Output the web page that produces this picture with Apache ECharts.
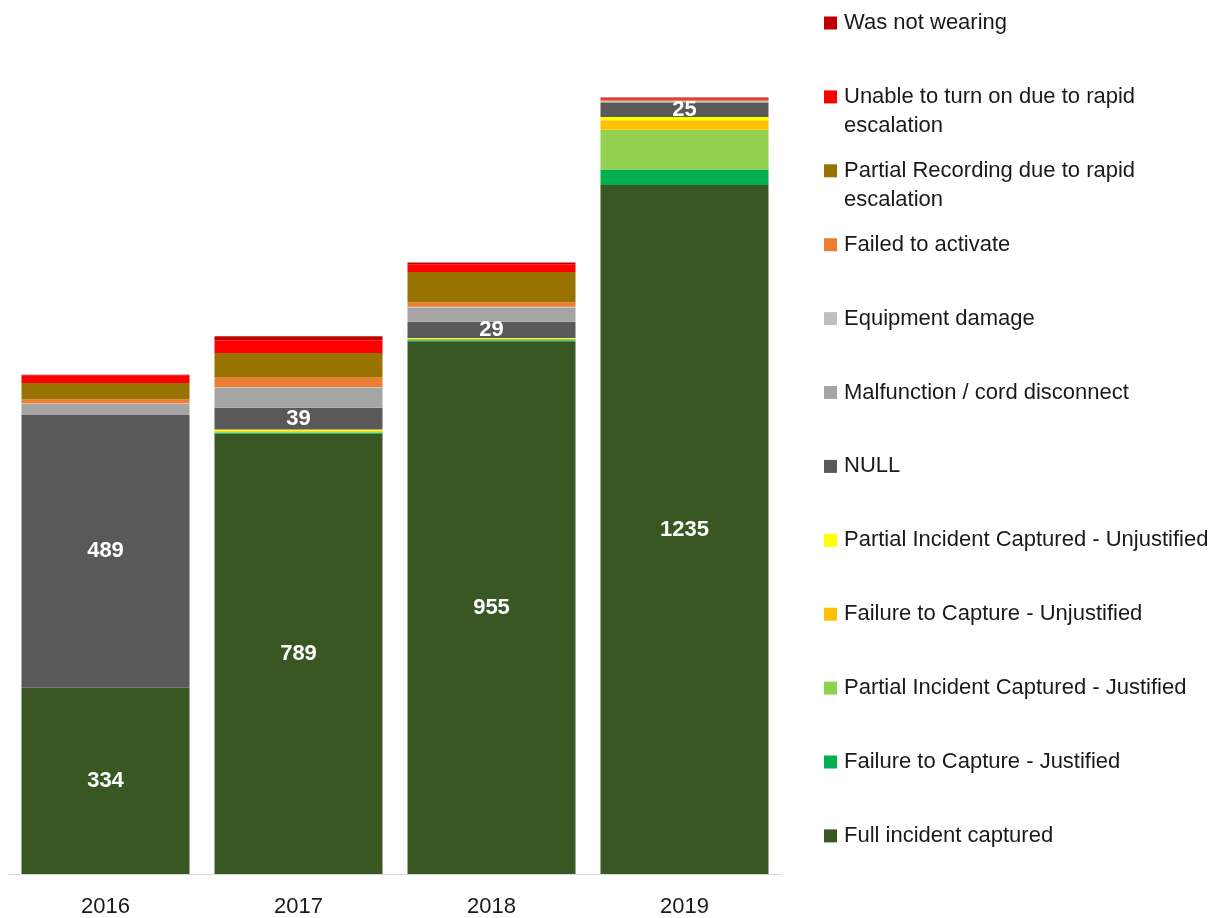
<!DOCTYPE html>
<html>
<head>
<meta charset="utf-8">
<script src="https://cdn.jsdelivr.net/npm/echarts@6/dist/echarts.min.js"></script>
<style>
  html, body { margin: 0; padding: 0; background: #fff; }
  #chart { width: 1222px; height: 918px; }
</style>
</head>
<body>
<div id="chart"></div>
<script>
// Body-worn camera recording outcomes per year, stacked from the bottom up
const years = ['2016', '2017', '2018', '2019'];

const fullIncident        = [334, 789, 955, 1235];
const failureJustified    = [0, 2, 2, 28];
const partialJustified    = [0, 2, 2, 71];
const failureUnjustified  = [0, 1, 1, 17];
const partialUnjustified  = [0, 3, 1, 6];
const nullValue           = [489, 39, 29, 25];
const malfunction         = [20, 36, 25, 2];
const equipmentDamage     = [1, 1, 2, 1];
const failedToActivate    = [7, 17, 8, 2];
const partialRecording    = [29, 44, 54, 1];
const unableToTurnOn      = [14, 23, 14, 2];
const wasNotWearing       = [1, 7, 3, 2];

// Bottom-to-top stacking order
const seriesDefs = [
  { name: 'Full incident captured', data: fullIncident, color: '#385723', label: true },
  { name: 'Failure to Capture - Justified', data: failureJustified, color: '#00B050' },
  { name: 'Partial Incident Captured - Justified', data: partialJustified, color: '#92D050' },
  { name: 'Failure to Capture - Unjustified', data: failureUnjustified, color: '#FFC000' },
  { name: 'Partial Incident Captured - Unjustified', data: partialUnjustified, color: '#FFFF00' },
  { name: 'NULL', data: nullValue, color: '#595959', label: true },
  { name: 'Malfunction / cord disconnect', data: malfunction, color: '#A5A5A5' },
  { name: 'Equipment damage', data: equipmentDamage, color: '#BFBFBF' },
  { name: 'Failed to activate', data: failedToActivate, color: '#ED7D31' },
  { name: 'Partial Recording due to rapid escalation', data: partialRecording, color: '#997300',
    legendText: 'Partial Recording due to rapid\nescalation' },
  { name: 'Unable to turn on due to rapid escalation', data: unableToTurnOn, color: '#FF0000',
    legendText: 'Unable to turn on due to rapid\nescalation' },
  { name: 'Was not wearing', data: wasNotWearing, color: '#C00000' }
];

const FONT = 'Liberation Sans';
const LINE_H = 29;

// One legend block per series, listed top-down in reverse stacking order
const legends = seriesDefs.slice().reverse().map((s, i) => {
  const twoLine = !!s.legendText;
  const nLines = twoLine ? 3 : 1;
  const center = 23 + 73.9 * i;
  return {
    left: 824,
    top: center - (nLines * LINE_H) / 2,
    orient: 'vertical',
    padding: 0,
    selectedMode: false,
    itemWidth: 13,
    itemHeight: 13,
    icon: 'rect',
    data: [s.name],
    formatter: () => twoLine ? '\n' + s.legendText : s.name,
    textStyle: {
      fontFamily: FONT,
      fontSize: 22,
      color: '#1a1a1a',
      lineHeight: LINE_H,
      padding: [0, 0, 0, 2]
    }
  };
});

const series = seriesDefs.map(s => ({
  name: s.name,
  type: 'bar',
  stack: 'total',
  barWidth: 168,
  data: s.data,
  itemStyle: { color: s.color },
  label: s.label ? {
    show: true,
    position: 'inside',
    color: '#fff',
    fontFamily: FONT,
    fontWeight: 'bold',
    fontSize: 22
  } : { show: false },
  emphasis: { disabled: true }
}));

const chart = echarts.init(document.getElementById('chart'), null, { renderer: 'canvas' });
chart.setOption({
  animation: false,
  backgroundColor: '#fff',
  grid: { left: 9, right: 441, top: 93, bottom: 43, containLabel: false },
  legend: legends,
  xAxis: {
    type: 'category',
    data: years,
    axisLine: { show: true, lineStyle: { color: '#D9D9D9', width: 1 } },
    axisTick: { show: false },
    axisLabel: { color: '#1a1a1a', fontFamily: FONT, fontSize: 22, margin: 22 }
  },
  yAxis: {
    type: 'value',
    min: 0,
    max: 1400,
    show: false,
    splitLine: { show: false }
  },
  series: series
});
</script>
</body>
</html>
